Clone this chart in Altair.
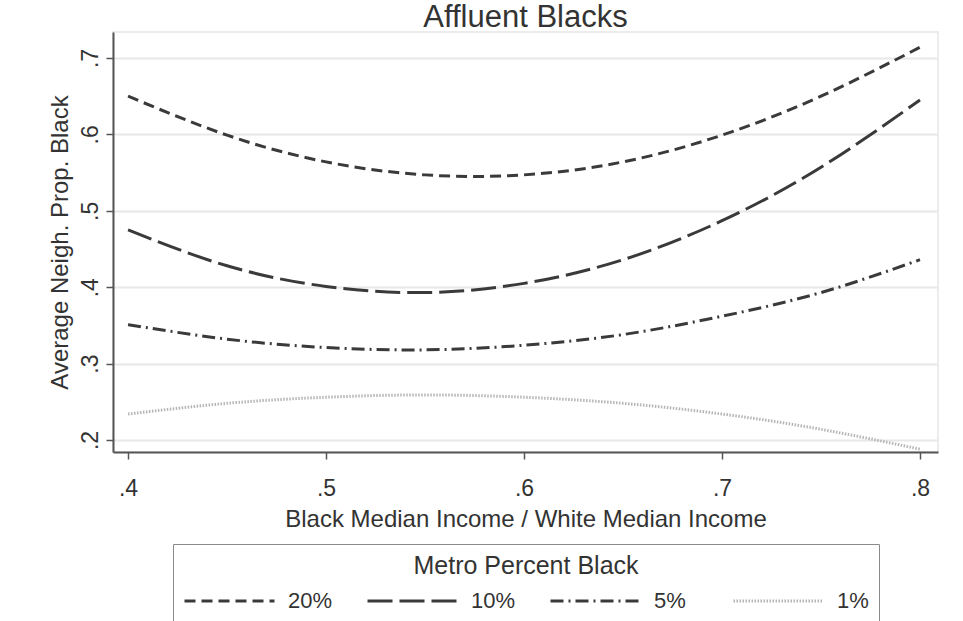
import altair as alt
import pandas as pd

# Predicted neighbourhood share black by income ratio, one curve per metro share
income_ratio = [0.40, 0.45, 0.50, 0.55, 0.60, 0.65, 0.70, 0.75, 0.80]
pct20 = [0.650, 0.599, 0.564, 0.547, 0.547, 0.564, 0.599, 0.650, 0.714]
pct10 = [0.475, 0.428, 0.401, 0.393, 0.405, 0.436, 0.487, 0.557, 0.645]
pct5 = [0.351, 0.332, 0.321, 0.318, 0.324, 0.338, 0.362, 0.393, 0.436]
pct1 = [0.234, 0.248, 0.256, 0.259, 0.256, 0.248, 0.234, 0.214, 0.188]

groups = ["20%", "10%", "5%", "1%"]
x_ticks = [0.4, 0.5, 0.6, 0.7, 0.8]
y_ticks = [0.2, 0.3, 0.4, 0.5, 0.6, 0.7]

rows = []
for name, series in zip(groups, [pct20, pct10, pct5, pct1]):
    for xv, yv in zip(income_ratio, series):
        rows.append({"ratio": xv, "share": yv, "group": name})
df = pd.DataFrame(rows)

FONT = "Liberation Sans"
INK = "#333333"
strip_zero = "replace(format(datum.value, '.1f'), '0.', '.')"

chart = (
    alt.Chart(df)
    .mark_line(strokeWidth=3, interpolate="natural")
    .encode(
        x=alt.X(
            "ratio:Q",
            scale=alt.Scale(domain=[0.3924, 0.8091], nice=False, zero=False),
            axis=alt.Axis(
                values=x_ticks,
                labelExpr=strip_zero,
                title="Black Median Income / White Median Income",
                grid=False,
                labelPadding=18,
                titleBaseline="alphabetic",
                titleY=74,
            ),
        ),
        y=alt.Y(
            "share:Q",
            scale=alt.Scale(domain=[0.1843, 0.734], nice=False, zero=False),
            axis=alt.Axis(
                values=y_ticks,
                labelExpr=strip_zero,
                title="Average Neigh. Prop. Black",
                grid=True,
                gridColor="#e8e8e8",
                gridWidth=2,
                labelAngle=270,
                labelAlign="center",
                labelBaseline="bottom",
                labelPadding=4,
                titleBaseline="middle",
                titleX=-53,
            ),
        ),
        color=alt.Color(
            "group:N",
            scale=alt.Scale(
                domain=groups,
                range=["#3a3a3a", "#3a3a3a", "#3a3a3a", "#b5b5b5"],
            ),
            legend=alt.Legend(
                title="Metro Percent Black",
                orient="none",
                legendX=60,
                legendY=512,
                direction="horizontal",
                columns=4,
                titleAnchor="middle",
                titleOrient="top",
                titleFontSize=25,
                titleFontWeight="normal",
                titleFont=FONT,
                titleColor=INK,
                titlePadding=9,
                titleLimit=600,
                labelFontSize=22,
                labelFont=FONT,
                labelColor=INK,
                labelOffset=12,
                symbolType="stroke",
                symbolSize=8100,
                symbolStrokeWidth=3,
                clipHeight=26,
                columnPadding=33,
                gridAlign="all",
                padding=10,
                strokeColor="#8a8a8a",
            ),
        ),
        strokeDash=alt.StrokeDash(
            "group:N",
            scale=alt.Scale(
                domain=groups,
                range=[[11, 6], [25, 7], [13, 5, 2, 5], [1.5, 1.5]],
            ),
            legend=alt.Legend(title="Metro Percent Black"),
        ),
    )
    .properties(
        width=825,
        height=420,
        autosize=alt.AutoSizeParams(type="none"),
        padding={"left": 113, "top": 32, "right": 25, "bottom": 169},
        title=alt.TitleParams(
            "Affluent Blacks",
            fontSize=31,
            font=FONT,
            fontWeight="normal",
            color=INK,
            anchor="middle",
            baseline="bottom",
            offset=-33,
        ),
        background="white",
    )
    .configure_view(stroke="#ececec", strokeWidth=2)
    .configure_axis(
        labelFont=FONT,
        labelFontSize=23,
        labelColor=INK,
        titleFont=FONT,
        titleFontSize=24,
        titleFontWeight="normal",
        titleColor=INK,
        domainColor="#555555",
        domainWidth=2,
        tickColor="#555555",
        tickWidth=1.5,
        tickSize=7,
    )
)

chart.save("out.html", embed_options={"renderer": "svg", "actions": False})
